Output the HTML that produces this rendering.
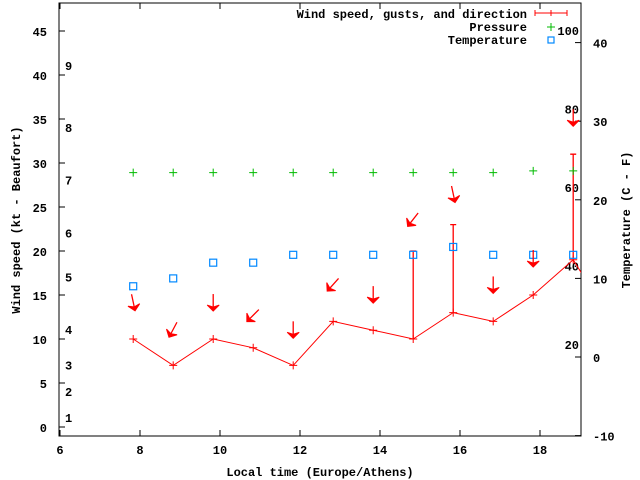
<!DOCTYPE html>
<html><head><meta charset="utf-8"><style>
body{margin:0;background:#fff}
svg{display:block;font-family:"Liberation Mono",monospace;font-weight:bold;font-size:12px}
</style></head><body>
<svg id="chart" width="640" height="480" viewBox="0 0 640 480">
<g id="axes"></g>
<g id="marks"></g>
<text x="320" y="476" text-anchor="middle">Local time (Europe/Athens)</text>
<text transform="translate(20,220) rotate(-90)" text-anchor="middle">Wind speed (kt - Beaufort)</text>
<text transform="translate(630,220) rotate(-90)" text-anchor="middle">Temperature (C - F)</text>
<g>
<text x="527" y="18" text-anchor="end">Wind speed, gusts, and direction</text>
<path d="M535 13H567M535 10V16M551 10V16M567 10V16" stroke="#f00" fill="none"/>
<text x="527" y="31" text-anchor="end">Pressure</text>
<path d="M547 27H555M551 23V31" stroke="#0b0"/>
<text x="527" y="44" text-anchor="end">Temperature</text>
<rect x="548" y="37" width="6" height="6" fill="none" stroke="#08f" stroke-width="1.2"/>
</g>
</svg>
<script>
const times=[7.83,8.83,9.83,10.83,11.83,12.83,13.83,14.83,15.83,16.83,17.83,18.83];
const speeds=[10,7,10,9,7,12,11,10,13,12,15,19];
const gusts=[null,null,null,null,null,null,null,20,23,null,null,31];
const pressure=[28.9,28.9,28.9,28.9,28.9,28.9,28.9,28.9,28.9,28.9,29.1,29.1];
const temps=[9,10,12,12,13,13,13,13,14,13,13,13];
const arrowY=[14.2,11.1,14.2,12.7,11.1,16.2,15.1,23.6,26.5,16.2,19.2,35.2];
const arrowDir=[-12,28,0,45,0,42,0,38,-12,0,0,0];
const xTicks=[6,8,10,12,14,16,18];
const yTicks=[0,5,10,15,20,25,30,35,40,45];
const y2Ticks=[-10,0,10,20,30,40];
const beaufort=[["1",1.0],["2",4.0],["3",7.0],["4",11.0],["5",17.0],["6",22.0],["7",28.0],["8",34.0],["9",41.0]];
const fahr=[["100",41.5],["80",31.5],["60",21.5],["40",11.5],["20",1.5]];
const L=59,R=581,T=3,B=436;
const X=t=>60+(t-6)*40;
const Y=v=>427-v*8.8;
const Y2=c=>357-c*7.86;
const NS="http://www.w3.org/2000/svg";
function el(p,tag,a){const e=document.createElementNS(NS,tag);for(const k in a)e.setAttribute(k,a[k]);p.appendChild(e);return e;}
const ax=document.getElementById('axes'),mk=document.getElementById('marks');
const frame=el(ax,'rect',{x:L,y:T,width:R-L,height:B-T,fill:'none',stroke:'#000'});


xTicks.forEach(t=>{const x=X(t);
 const p=el(ax,'path',{d:`M${x} ${B}v-6M${x} ${T}v6`,stroke:'#000'});
 
 
 const tx=el(ax,'text',{x:x,y:B+18,'text-anchor':'middle'});tx.textContent=t;
 
 });
yTicks.forEach(v=>{const y=Y(v);
 const p=el(ax,'path',{d:`M${L} ${y}h6`,stroke:'#000'});
 
 
 const tx=el(ax,'text',{x:L-12,y:y+5,'text-anchor':'end'});tx.textContent=v;
 
 });
y2Ticks.forEach(c=>{const y=Y2(c);
 const p=el(ax,'path',{d:`M${R} ${y}h-6`,stroke:'#000'});
 
 
 const tx=el(ax,'text',{x:R+12,y:y+5,'text-anchor':'start'});tx.textContent=c;
 
 });
beaufort.forEach(([l,v])=>{const tx=el(ax,'text',{x:65,y:Y(v)+4});tx.textContent=l;
 
 });
fahr.forEach(([l,c])=>{const tx=el(ax,'text',{x:579,y:Y2(c)+4,'text-anchor':'end'});tx.textContent=l;
 
 });
// clip
const cp=el(mk,'clipPath',{id:'clip'});el(cp,'rect',{x:L,y:T,width:R-L,height:B-T});
const g=el(mk,'g',{'clip-path':'url(#clip)'});
// wind line (extend slightly to edge)
let d=speeds.map((s,i)=>(i?'L':'M')+X(times[i])+' '+Y(s)).join('');
d+=`L${X(times[11])+10} ${Y(speeds[11])+16}`;
const line=el(g,'path',{d:d,stroke:'#f00',fill:'none'});


speeds.forEach((s,i)=>{const x=X(times[i]),y=Y(s);
 const p=el(g,'path',{d:`M${x-4} ${y}h8M${x} ${y-4}v8`,stroke:'#f00'});
 
 
 if(gusts[i]!=null){const gy=Y(gusts[i]);
  const q=el(g,'path',{d:`M${x} ${y}V${gy}M${x-3} ${gy}h6`,stroke:'#f00','stroke-width':1.3});
  
  }});
pressure.forEach((v,i)=>{const x=X(times[i]),y=Y(v);
 const p=el(g,'path',{d:`M${x-4} ${y}h8M${x} ${y-4}v8`,stroke:'#0b0'});
 
 });
temps.forEach((c,i)=>{const x=X(times[i]),y=Y2(c);
 const r=el(g,'rect',{x:x-3.5,y:y-3.5,width:7,height:7,fill:'none',stroke:'#08f','stroke-width':1.2});
 
 });
arrowY.forEach((v,i)=>{const x=X(times[i]),y=Y(v);
 const a=el(g,'g',{transform:`translate(${x},${y}) rotate(${arrowDir[i]})`});
 
 
 el(a,'path',{d:'M0 -8V7',stroke:'#f00','stroke-width':1.3});
 el(a,'path',{d:'M-6 3L0 9L6 3L0 5Z',fill:'#f00',stroke:'#f00'});});
</script>
</body></html>
